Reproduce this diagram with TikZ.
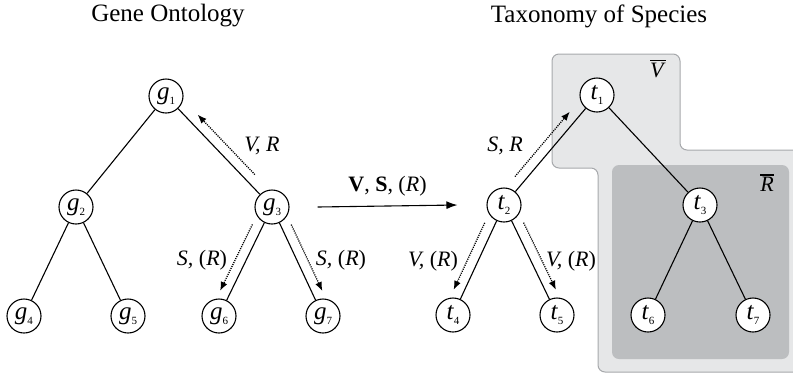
\documentclass[tikz,border=0pt]{standalone}
\usepackage{fontspec}
\setmainfont{Liberation Serif}
\usetikzlibrary{calc,arrows.meta}
\definecolor{lightsh}{HTML}{E6E7E8}
\definecolor{lightbd}{HTML}{A7A9AC}
\definecolor{darksh}{HTML}{BCBEC0}
\newcommand\nlab[2]{\textit{#1}\raisebox{-0.2em}{\fontsize{11}{11}\selectfont #2}}
\newcommand\obar[1]{\vbox{\hrule height 1.4pt\kern 2pt\hbox{\textit{#1}}}}
\tikzset{
  tnode/.style={circle,draw,line width=1.1pt,fill=white,minimum size=34pt,inner sep=0pt,font=\fontsize{25}{25}\selectfont},
  edge/.style={line width=1.1pt},
  hint/.style={line width=1.3pt,dash pattern=on 1.1pt off 1.1pt,-{Latex[length=9pt,width=7pt]}},
  lab/.style={font=\fontsize{22}{23}\selectfont,inner sep=0pt},
  ttl/.style={font=\fontsize{25}{26}\selectfont,inner sep=0pt}
}
\begin{document}
\begin{tikzpicture}[x=1pt,y=-1pt]
\useasboundingbox (0,0) rectangle (793,376);
\clip (0,0) rectangle (793,376);
% shaded regions
\path[fill=lightsh,draw=lightbd,line width=1pt,rounded corners=7pt]
  (552,54) -- (680,54) -- (680,150) -- (810,150) -- (810,372) -- (598,372) -- (598,168) -- (552,168) -- cycle;
\path[fill=darksh,rounded corners=7pt] (612,165) rectangle (789,359);
\node[lab] (vbar) at (658,69) {\obar{V}};
\node[lab] (rbar) at (767,183) {\obar{R}};
% titles
\node[ttl] (tg) at (168,16) {Gene Ontology};
\node[ttl] (tt) at (599,16) {Taxonomy of Species};
% gene tree
\node[tnode] (g1) at (166,96) {\nlab{g}{1}};
\node[tnode] (g2) at (76,207) {\nlab{g}{2}};
\node[tnode] (g3) at (272,207) {\nlab{g}{3}};
\node[tnode] (g4) at (24,316) {\nlab{g}{4}};
\node[tnode] (g5) at (128,316) {\nlab{g}{5}};
\node[tnode] (g6) at (219,316) {\nlab{g}{6}};
\node[tnode] (g7) at (323,316) {\nlab{g}{7}};
% taxonomy tree
\node[tnode] (t1) at (597,95) {\nlab{t}{1}};
\node[tnode] (t2) at (504,205) {\nlab{t}{2}};
\node[tnode] (t3) at (700,205) {\nlab{t}{3}};
\node[tnode] (t4) at (453,315) {\nlab{t}{4}};
\node[tnode] (t5) at (557,315) {\nlab{t}{5}};
\node[tnode] (t6) at (648,315) {\nlab{t}{6}};
\node[tnode] (t7) at (753,315) {\nlab{t}{7}};
% edges
\foreach \a/\b in {g1/g2,g1/g3,g2/g4,g2/g5,g3/g6,g3/g7,t1/t2,t1/t3,t2/t4,t2/t5,t3/t6,t3/t7}
  \draw[edge] (\a) -- (\b);
% dotted hint arrows
\draw[hint] ($(g3)!0.23!(g1)!10pt!-90:(g1)$) -- ($(g3)!0.77!(g1)!10pt!-90:(g1)$);
\draw[hint] ($(g3)!0.2!(g6)!10pt!-90:(g6)$) -- ($(g3)!0.81!(g6)!10pt!-90:(g6)$);
\draw[hint] ($(g3)!0.2!(g7)!10pt!90:(g7)$) -- ($(g3)!0.81!(g7)!10pt!90:(g7)$);
\draw[hint] ($(t2)!0.2!(t1)!10pt!90:(t1)$) -- ($(t2)!0.79!(t1)!10pt!90:(t1)$);
\draw[hint] ($(t2)!0.2!(t4)!10pt!-90:(t4)$) -- ($(t2)!0.81!(t4)!10pt!-90:(t4)$);
\draw[hint] ($(t2)!0.2!(t5)!10pt!90:(t5)$) -- ($(t2)!0.81!(t5)!10pt!90:(t5)$);
% hint labels
\node[lab] (l1) at (262,146) {\textit{V, R}};
\node[lab] (l2) at (202,260) {\textit{S,} (\textit{R})};
\node[lab] (l3) at (341,260) {\textit{S,} (\textit{R})};
\node[lab] (l4) at (505,146) {\textit{S, R}};
\node[lab] (l5) at (433,261) {\textit{V,} (\textit{R})};
\node[lab] (l6) at (571,261) {\textit{V,} (\textit{R})};
% main mapping arrow
\draw[edge,-{Latex[length=11pt,width=8pt]}] ($(g3.east)+(28,0)$) -- ($(t2.west)+(-29,0)$)
  node[midway,above=9pt,lab] (map) {\textbf{V}, \textbf{S}, (\textit{R})};
\end{tikzpicture}
\end{document}
